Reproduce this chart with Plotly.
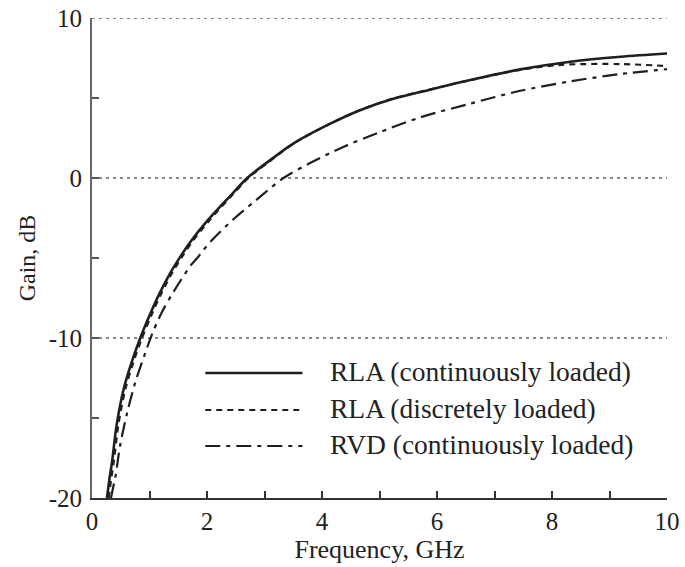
import plotly.graph_objects as go

# ---- data ----
series_names = ["RLA (continuously loaded)", "RLA (discretely loaded)", "RVD (continuously loaded)"]

f_rla_cont = [0.26, 0.30, 0.35, 0.43, 0.55, 0.70, 0.84, 1.00, 1.15, 1.36, 1.54, 1.71, 2.00, 2.41, 2.70,
              3.00, 3.50, 4.09, 4.67, 5.24, 5.71, 6.58, 7.45, 8.32, 9.19, 10.0]
g_rla_cont = [-20.0, -18.9, -17.7, -15.4, -13.2, -11.4, -10.0, -8.6, -7.4, -5.95, -4.9, -4.0, -2.7, -1.1, 0.0,
              0.85, 2.15, 3.3, 4.25, 4.95, 5.37, 6.12, 6.79, 7.27, 7.58, 7.78]

f_rla_disc = [0.29, 0.33, 0.38, 0.46, 0.58, 0.73, 0.87, 1.03, 1.18, 1.39, 1.57, 1.74, 2.03, 2.43, 2.72,
              3.00, 3.50, 4.09, 4.67, 5.24, 5.71, 6.58, 7.45, 8.00, 8.32, 9.19, 10.0]
g_rla_disc = [-20.0, -18.9, -17.7, -15.4, -13.2, -11.4, -10.0, -8.6, -7.4, -5.95, -4.9, -4.0, -2.7, -1.1, 0.0,
              0.8, 2.13, 3.3, 4.25, 4.97, 5.39, 6.12, 6.76, 7.02, 7.1, 7.12, 7.0]

f_rvd_cont = [0.33, 0.37, 0.41, 0.49, 0.61, 0.75, 0.93, 1.04, 1.20, 1.42, 1.71, 1.83, 2.06, 2.46, 2.87,
              3.33, 3.80, 4.38, 4.96, 5.71, 6.58, 7.45, 8.32, 9.19, 10.0]
g_rvd_cont = [-20.0, -19.3, -18.6, -16.7, -14.7, -12.8, -10.9, -9.8, -8.5, -7.1, -5.5, -5.0, -3.98, -2.58, -1.33,
              0.0, 0.95, 1.96, 2.8, 3.79, 4.65, 5.45, 6.04, 6.5, 6.8]

x_ticks = [0, 2, 4, 6, 8, 10]
x_tick_labels = ["0", "2", "4", "6", "8", "10"]
y_ticks = [-20, -10, 0, 10]
y_tick_labels = ["-20", "-10", "0", "10"]
grid_levels = [-10, 0, 10]

FONT = "Liberation Serif, Times New Roman, serif"
INK = "#1f1f1f"
dashes = ["solid", "6px,5px", "15px,6px,4px,6px"]
widths = [2.6, 2.2, 2.2]

fig = go.Figure()

# dotted horizontal grid lines (incl. the one at the top edge)
for gv in grid_levels:
    fig.add_shape(type="line", xref="paper", yref="y", x0=0, x1=1, y0=gv, y1=gv,
                  line=dict(color="#111", width=1, dash="3px,4px"), layer="below")

for name, xs, ys, d, w in zip(series_names,
                              [f_rla_cont, f_rla_disc, f_rvd_cont],
                              [g_rla_cont, g_rla_disc, g_rvd_cont],
                              dashes, widths):
    fig.add_trace(go.Scatter(x=xs, y=ys, mode="lines", name=name,
                             line=dict(color=INK, width=w, dash=d, shape="spline", smoothing=0.9),
                             showlegend=False, cliponaxis=True))

# legend drawn as line samples + labels (no box)
leg_y = [0.2604, 0.1833, 0.1083]
for name, yv, d, w in zip(series_names, leg_y, dashes, widths):
    fig.add_shape(type="line", xref="paper", yref="paper", x0=0.197, x1=0.366, y0=yv, y1=yv,
                  line=dict(color=INK, width=w, dash=d))
    fig.add_annotation(xref="paper", yref="paper", x=0.41, y=yv + 0.004, text=name, showarrow=False,
                       xanchor="left", yanchor="middle", font=dict(family=FONT, size=27.5, color="#222"))

fig.update_layout(
    width=685, height=567,
    margin=dict(l=92, r=18, t=18, b=69),
    paper_bgcolor="white", plot_bgcolor="white",
    font=dict(family=FONT, size=24, color="#222"),
    showlegend=False,
)
fig.update_xaxes(
    range=[0, 10], tickvals=x_ticks, ticktext=x_tick_labels,
    ticks="inside", ticklen=7, tickwidth=1.5, tickcolor="#333",
    minor=dict(dtick=1, ticks="inside", ticklen=7, tickwidth=1.5, tickcolor="#333"),
    showline=True, linecolor="#333", linewidth=2, showgrid=False, zeroline=False,
    title=dict(text="Frequency, GHz", standoff=4, font=dict(size=26)), tickfont=dict(size=25),
    automargin=False, ticklabeloverflow="allow",
)
fig.update_yaxes(
    range=[-20, 10], tickvals=y_ticks, ticktext=y_tick_labels,
    ticks="inside", ticklen=7, tickwidth=1.5, tickcolor="#555",
    minor=dict(dtick=5, ticks="inside", ticklen=7, tickwidth=1.5, tickcolor="#555", showgrid=False),
    showline=True, linecolor="#666", linewidth=2,
    showgrid=False, zeroline=False,
    title=dict(text="Gain, dB", standoff=6, font=dict(size=24)), tickfont=dict(size=25),
    ticklabelstandoff=3,
    automargin=False, ticklabeloverflow="allow",
)

# remove the default 8px page margin so the figure fills the window exactly
fig.write_html("out.html", config={"displayModeBar": False},
               post_script="document.body.style.margin='0px';")
